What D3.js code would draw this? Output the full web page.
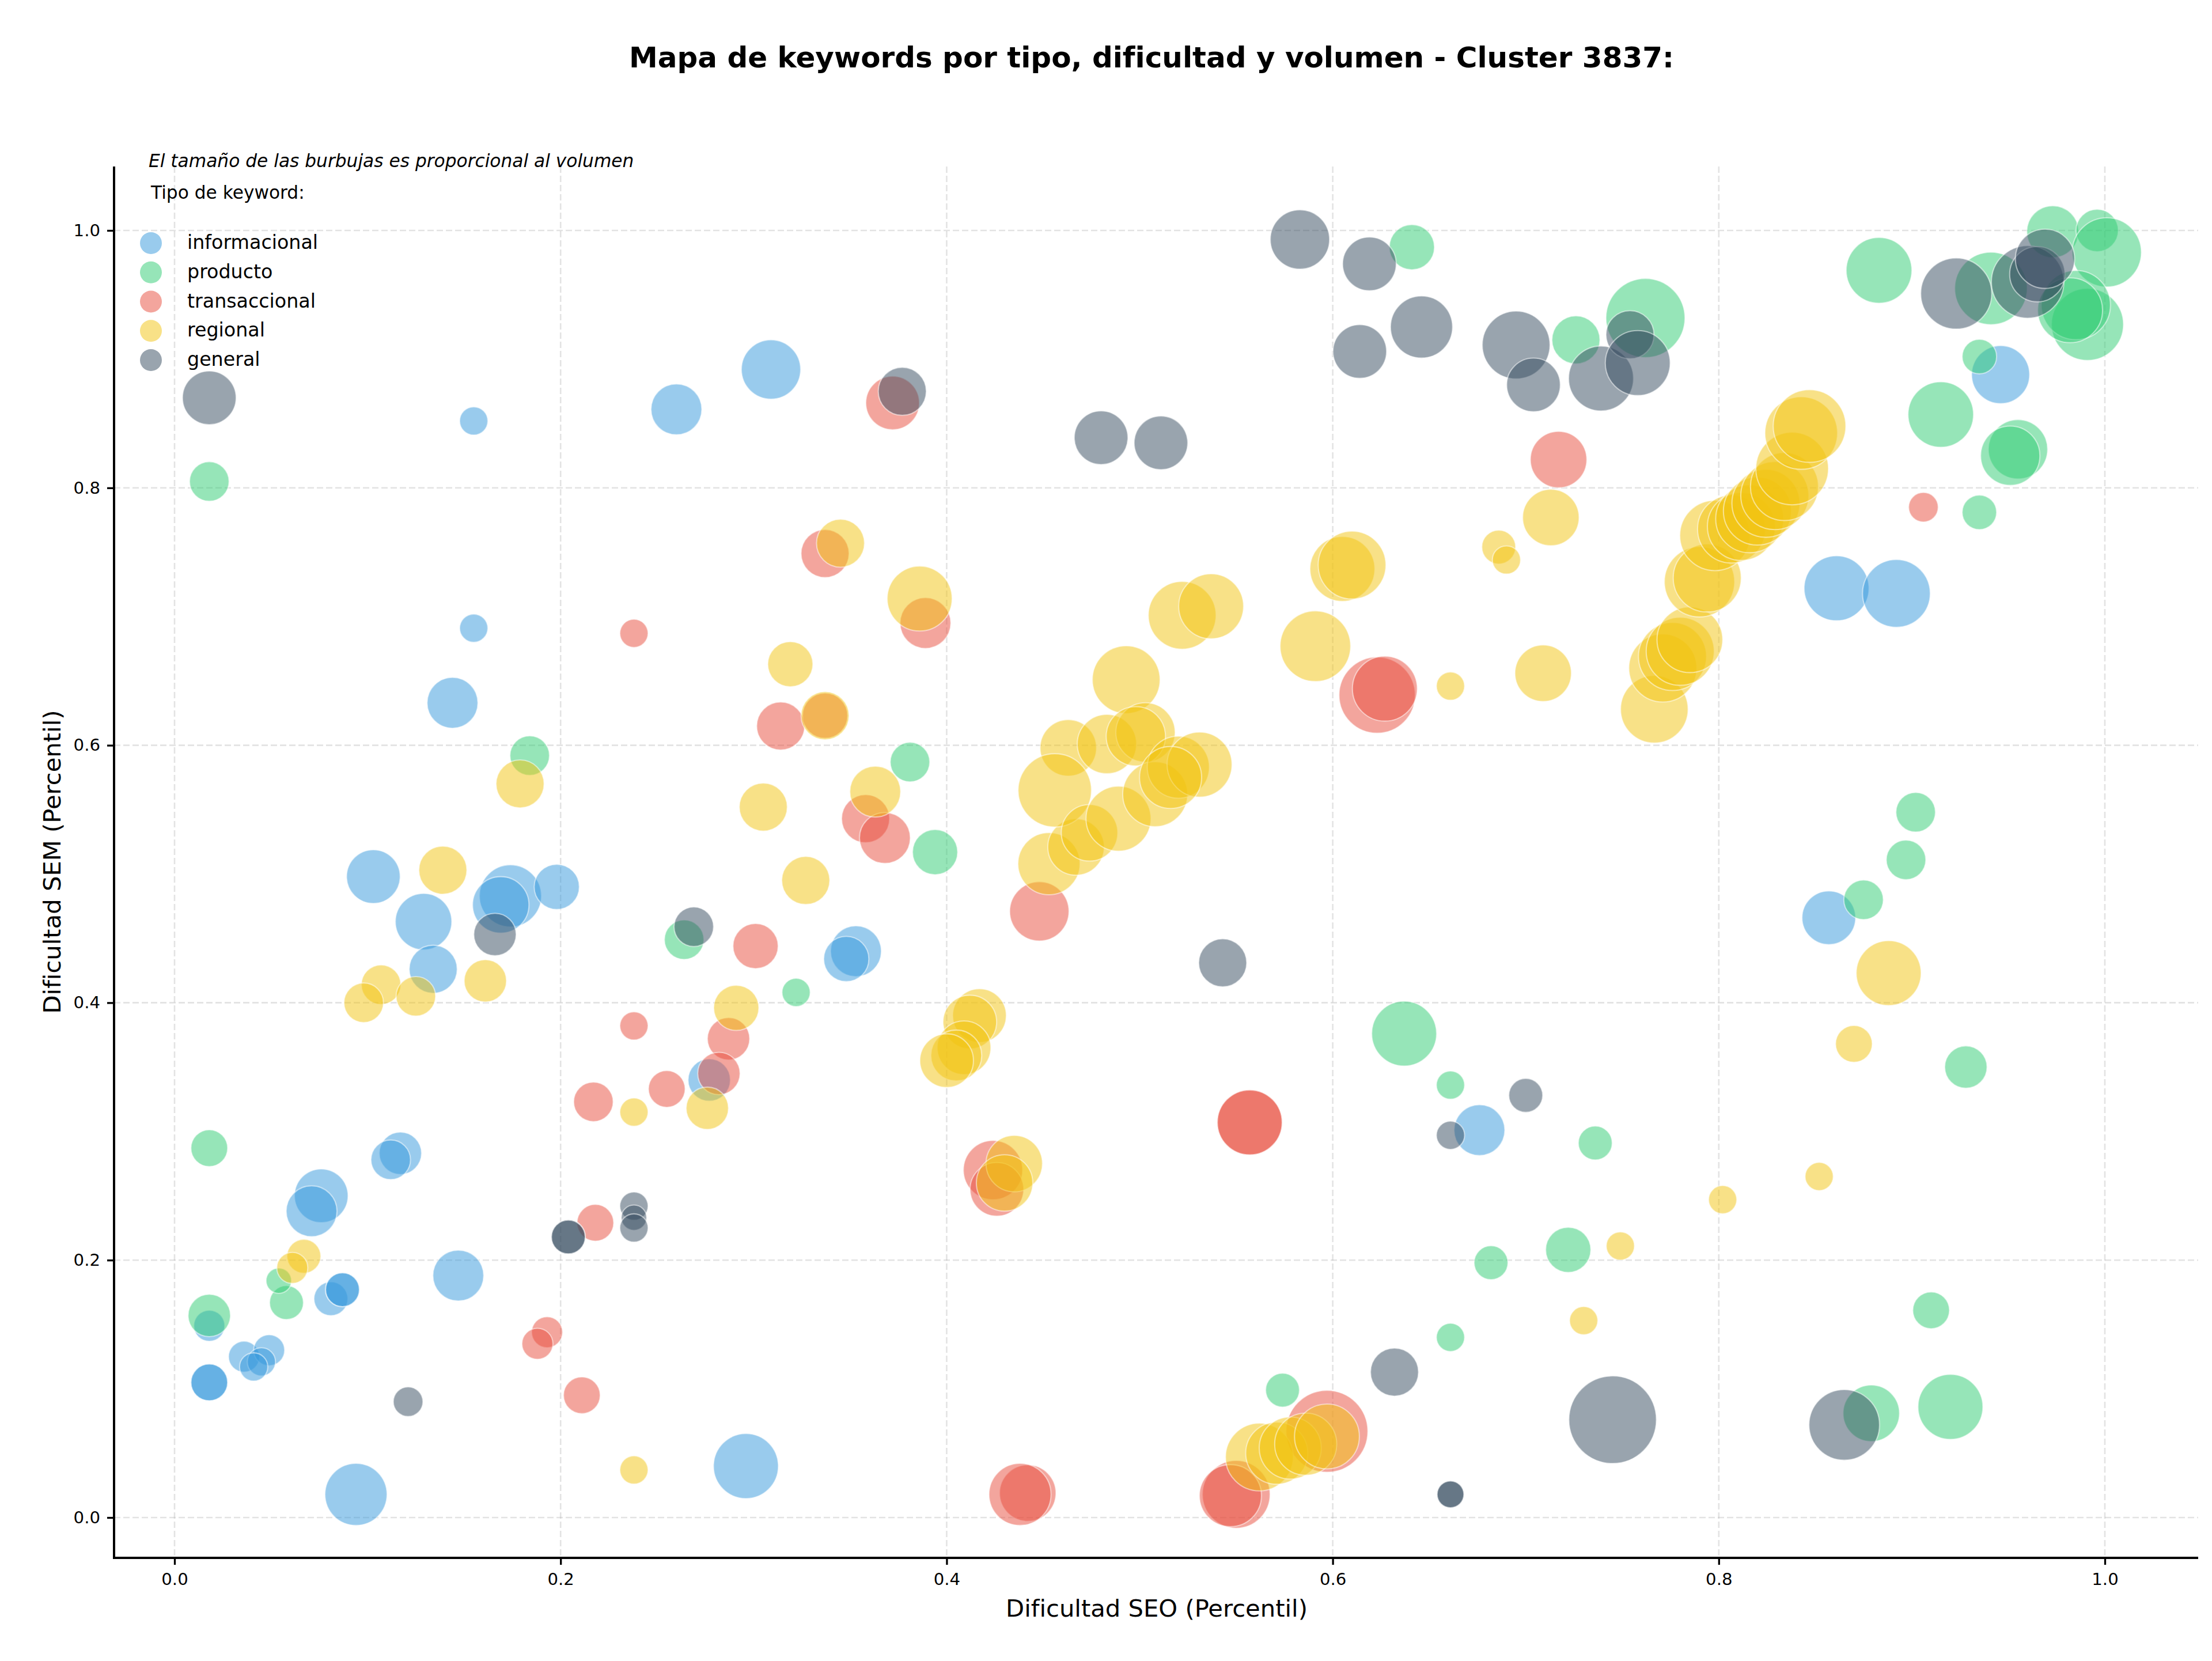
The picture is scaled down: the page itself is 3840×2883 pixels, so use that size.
<!DOCTYPE html>
<html lang="es">
<head>
<meta charset="utf-8">
<title>Mapa de keywords</title>
<script src="https://cdn.jsdelivr.net/npm/d3@7/dist/d3.min.js"></script>
<style>
  html, body { margin: 0; padding: 0; background: #fff; }
  svg { display: block; font-family: "DejaVu Sans", sans-serif; }
</style>
</head>
<body>
<svg id="chart" width="3840" height="2883"></svg>
<script>
// Cada fila: [dificultad SEO, dificultad SEM, volumen]
const informacional = [
  [.155,.852,138],[.26,.861,448],[.309,.892,610],[.155,.691,138],[.144,.633,448],
  [.103,.498,499],[.129,.463,553],[.134,.426,400],[.174,.483,669],[.169,.476,553],
  [.198,.49,354],[.353,.44,448],[.348,.434,354],[.277,.34,311],[.076,.25,499],
  [.071,.238,448],[.117,.283,311],[.112,.278,271],[.147,.188,448],[.081,.17,199],
  [.087,.177,199],[.087,.177,199],[.018,.105,234],[.018,.105,234],[.018,.149,167],
  [.036,.125,167],[.049,.13,167],[.045,.121,138],[.041,.117,138],[.094,.018,669],
  [.296,.04,731],[.676,.301,448],[.857,.466,499],[.861,.722,731],[.892,.718,796],
  [.946,.888,585]
];
const producto = [
  [.018,.805,271],[.184,.592,271],[.264,.449,271],[.322,.408,138],[.381,.587,271],
  [.394,.517,354],[.018,.287,234],[.058,.167,199],[.054,.184,112],[.018,.157,311],
  [.641,.987,354],[.726,.915,400],[.762,.932,1083],[.883,.969,748],[.915,.857,744],
  [.955,.83,610],[.951,.825,610],[.935,.902,206],[.935,.781,206],[.941,.955,912],
  [.973,.999,468],[.996,1.0,311],[1.001,.983,830],[.991,.927,900],[.985,.942,830],
  [.982,.938,731],[.875,.48,271],[.897,.511,271],[.902,.548,271],[.928,.35,311],
  [.637,.376,731],[.661,.336,138],[.736,.291,199],[.682,.198,199],[.722,.208,354],
  [.661,.14,138],[.574,.099,199],[.91,.161,234],[.879,.081,553],[.92,.086,731]
];
const transaccional = [
  [.238,.687,138],[.337,.749,400],[.372,.866,499],[.389,.695,448],[.314,.615,400],
  [.337,.623,354],[.358,.543,400],[.368,.528,448],[.301,.444,354],[.448,.471,610],
  [.238,.382,138],[.287,.372,311],[.282,.345,311],[.217,.323,271],[.255,.333,234],
  [.218,.229,234],[.193,.144,167],[.188,.135,167],[.211,.095,234],[.424,.27,610],
  [.426,.255,499],[.717,.822,553],[.623,.639,1008],[.627,.644,731],[.557,.307,731],
  [.557,.307,731],[.442,.019,553],[.438,.018,669],[.55,.018,796],[.547,.017,669],
  [.597,.067,1162],[.906,.785,152]
];
const regional = [
  [.345,.757,400],[.386,.714,731],[.319,.663,354],[.337,.623,400],[.305,.552,400],
  [.363,.564,448],[.327,.495,400],[.179,.57,400],[.139,.503,400],[.161,.417,311],
  [.107,.414,271],[.125,.405,271],[.098,.4,271],[.291,.396,354],[.276,.318,311],
  [.238,.315,138],[.067,.203,199],[.061,.194,167],[.238,.037,138],[.417,.39,499],
  [.412,.385,499],[.409,.365,499],[.405,.359,448],[.4,.355,499],[.435,.275,553],
  [.43,.26,553],[.453,.508,669],[.467,.521,553],[.463,.598,553],[.456,.565,934],
  [.474,.532,553],[.489,.543,731],[.483,.601,610],[.493,.651,796],[.503,.61,610],
  [.498,.607,610],[.508,.562,731],[.52,.583,669],[.531,.585,731],[.516,.575,669],
  [.522,.701,796],[.537,.708,731],[.591,.677,864],[.605,.737,731],[.61,.74,796],
  [.661,.646,138],[.686,.754,199],[.69,.744,138],[.713,.777,553],[.709,.656,553],
  [.749,.211,138],[.73,.153,138],[.802,.247,138],[.852,.265,138],[.87,.368,234],
  [.888,.423,731],[.7666,.628,792],[.771,.66,802],[.776,.669,802],[.78,.673,802],
  [.785,.682,749],[.79,.727,857],[.794,.73,802],[.798,.763,857],[.8066,.768,802],
  [.8117,.77,802],[.816,.776,802],[.82,.782,802],[.8244,.788,802],[.829,.794,802],
  [.834,.801,802],[.838,.815,915],[.8427,.8426,915],[.847,.848,915],[.562,.047,796],
  [.571,.05,669],[.578,.054,669],[.586,.057,669],[.597,.063,731]
];
const general = [
  [.018,.87,499],[.377,.875,400],[.583,.993,610],[.619,.974,499],[.614,.906,499],
  [.646,.925,669],[.48,.839,499],[.511,.835,499],[.695,.911,796],[.704,.88,499],
  [.739,.885,731],[.754,.919,400],[.758,.897,731],[.269,.459,271],[.166,.453,311],
  [.543,.431,400],[.7,.328,199],[.661,.297,138],[.204,.218,199],[.204,.218,199],
  [.238,.242,138],[.238,.233,112],[.238,.225,138],[.121,.09,152],[.632,.113,400],
  [.745,.076,1328],[.865,.072,864],[.661,.018,125],[.661,.018,125],[.923,.951,875],
  [.96,.96,912],[.965,.966,530],[.969,.978,610]
];

const tickValues = [0, 0.2, 0.4, 0.6, 0.8, 1.0];
const seriesNames = ["informacional", "producto", "transaccional", "regional", "general"];
const seriesRows = [informacional, producto, transaccional, regional, general];
const seriesColors = ["#3498db", "#2ecc71", "#e74c3c", "#f1c40f", "#34495e"];

const titleText = "Mapa de keywords por tipo, dificultad y volumen - Cluster 3837:";
const subtitleText = "El tamaño de las burbujas es proporcional al volumen";
const legendHeading = "Tipo de keyword:";
const xLabel = "Dificultad SEO (Percentil)";
const yLabel = "Dificultad SEM (Percentil)";

const svg = d3.select("#chart");

const plot = { left: 198, right: 3816, top: 289, bottom: 2704 };
const x = d3.scaleLinear().domain([0, 1]).range([303, 3654]);
const y = d3.scaleLinear().domain([0, 1]).range([2634, 400]);
// Área del marcador proporcional al volumen
const radius = d3.scaleSqrt().domain([0, 1300]).range([0, 75.1]);
const color = d3.scaleOrdinal().domain(seriesNames).range(seriesColors);

// Rejilla discontinua bajo las burbujas
const grid = svg.append("g")
  .attr("fill", "none")
  .attr("stroke", "#b0b0b0")
  .attr("stroke-opacity", 0.35)
  .attr("stroke-width", 2.6)
  .attr("stroke-dasharray", "11 5");
grid.selectAll("line.gx").data(tickValues).join("line")
  .attr("class", "gx")
  .attr("x1", d => x(d)).attr("x2", d => x(d))
  .attr("y1", plot.top).attr("y2", plot.bottom);
grid.selectAll("line.gy").data(tickValues).join("line")
  .attr("class", "gy")
  .attr("y1", d => y(d)).attr("y2", d => y(d))
  .attr("x1", plot.left).attr("x2", plot.right);

// Una capa de burbujas por tipo de keyword
seriesNames.forEach((name, i) => {
  svg.append("g").attr("class", "bubbles " + name)
    .selectAll("circle").data(seriesRows[i]).join("circle")
    .attr("cx", d => x(d[0]))
    .attr("cy", d => y(d[1]))
    .attr("r", d => radius(d[2]))
    .attr("fill", color(name))
    .attr("fill-opacity", 0.5)
    .attr("stroke", "#fff")
    .attr("stroke-opacity", 0.5)
    .attr("stroke-width", 2.1);
});

// Ejes: solo izquierda e inferior
const fmt = d3.format(".1f");
const xAxis = d3.axisBottom(x).tickValues(tickValues).tickFormat(fmt).tickSize(12).tickPadding(14);
const yAxis = d3.axisLeft(y).tickValues(tickValues).tickFormat(fmt).tickSize(12).tickPadding(12);

const gx = svg.append("g").attr("transform", `translate(0,${plot.bottom})`).call(xAxis);
const gy = svg.append("g").attr("transform", `translate(${plot.left},0)`).call(yAxis);
[gx, gy].forEach(g => {
  g.select(".domain").remove();
  g.selectAll(".tick line").attr("stroke", "#000").attr("stroke-width", 3.3);
  g.selectAll(".tick text").attr("font-family", '"DejaVu Sans"').attr("font-size", 29.2).attr("fill", "#000");
});
svg.append("line").attr("x1", plot.left).attr("x2", plot.left)
  .attr("y1", plot.top).attr("y2", plot.bottom + 2)
  .attr("stroke", "#000").attr("stroke-width", 4);
svg.append("line").attr("x1", plot.left - 2).attr("x2", plot.right)
  .attr("y1", plot.bottom).attr("y2", plot.bottom)
  .attr("stroke", "#000").attr("stroke-width", 4);

// Títulos
svg.append("text").attr("x", 1999).attr("y", 117)
  .attr("text-anchor", "middle").attr("font-size", 50).attr("font-weight", "bold")
  .text(titleText);
svg.append("text").attr("x", 2008).attr("y", 2806)
  .attr("text-anchor", "middle").attr("font-size", 41.7)
  .text(xLabel);
svg.append("text")
  .attr("transform", "translate(105,1496) rotate(-90)")
  .attr("text-anchor", "middle").attr("font-size", 41.7)
  .text(yLabel);

// Nota y leyenda
svg.append("text").attr("x", 258).attr("y", 290)
  .attr("font-size", 31.25).attr("font-style", "italic").text(subtitleText);
svg.append("text").attr("x", 262).attr("y", 345)
  .attr("font-size", 31.25).text(legendHeading);

const legendY = d3.scalePoint().domain(seriesNames).range([422, 625]);
const legend = svg.append("g").selectAll("g").data(seriesNames).join("g")
  .attr("transform", d => `translate(262,${legendY(d)})`);
legend.append("circle").attr("r", 19)
  .attr("fill", d => color(d)).attr("fill-opacity", 0.5);
legend.append("text").attr("x", 63).attr("y", 10)
  .attr("font-size", 33.3).text(d => d);
</script>
</body>
</html>
